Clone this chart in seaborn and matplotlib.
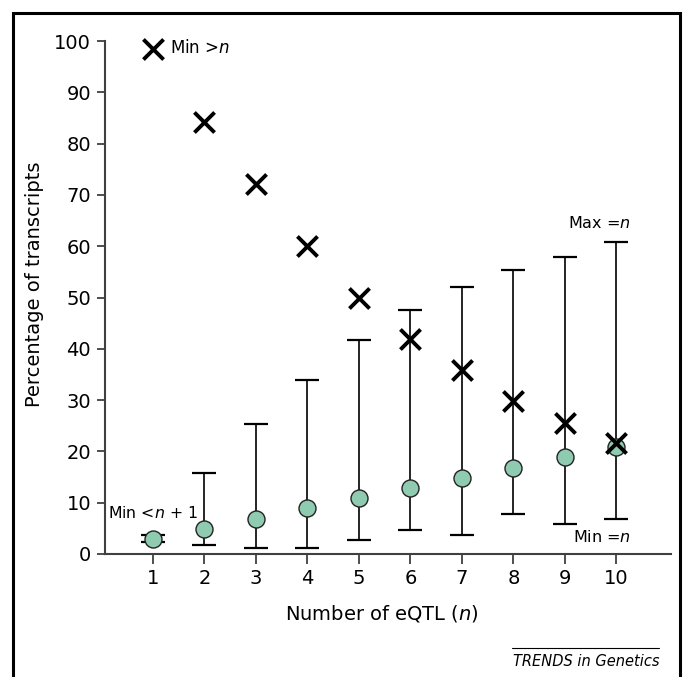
import numpy as np
import pandas as pd
import matplotlib
matplotlib.use("Agg")
import matplotlib.pyplot as plt
import seaborn as sns
from matplotlib.patches import Rectangle
from matplotlib.lines import Line2D

# values
n_eqtl = [1, 2, 3, 4, 5, 6, 7, 8, 9, 10]
mid_pct = [3, 4.9, 6.9, 8.9, 10.9, 12.9, 14.9, 16.8, 18.9, 20.9]
low_pct = [2.4, 1.8, 1.2, 1.2, 2.8, 4.7, 3.7, 7.8, 5.8, 6.8]
high_pct = [3.7, 15.8, 25.3, 34.0, 41.8, 47.6, 52.1, 55.4, 57.8, 60.9]
min_gt_n = [98.4, 84.2, 72.1, 60.0, 49.9, 41.9, 35.9, 29.9, 25.6, 21.6]
y_ticks = [0, 10, 20, 30, 40, 50, 60, 70, 80, 90, 100]

df = pd.DataFrame({"n": n_eqtl, "mid": mid_pct, "low": low_pct,
                   "high": high_pct, "gt": min_gt_n})

sns.set_style("ticks")
plt.rcParams["font.family"] = ["DejaVu Sans"]
plt.rcParams["text.color"] = "black"
plt.rcParams["axes.labelcolor"] = "black"
plt.rcParams["xtick.labelcolor"] = "black"
plt.rcParams["ytick.labelcolor"] = "black"

fig = plt.figure(figsize=(6.83, 6.77), dpi=100)
ax = fig.add_axes([0.1537, 0.1817, 0.8287, 0.7577])

# error bars (min/max range)
yerr = np.array([df["mid"] - df["low"], df["high"] - df["mid"]])
ax.errorbar(df["n"], df["mid"], yerr=yerr, fmt="none", ecolor="black",
            elinewidth=1.2, capsize=8.5, capthick=1.6, zorder=2)

# circles
sns.scatterplot(data=df, x="n", y="mid", ax=ax, s=150, color="#8fcbb0",
                edgecolor="#222222", linewidth=1.0, zorder=3, clip_on=False)

# X markers
sns.scatterplot(data=df, x="n", y="gt", ax=ax, marker="x", s=210,
                color="black", linewidth=2.8, zorder=4, clip_on=False)

ax.set_xlim(0.07, 11.06)
ax.set_ylim(0, 100)
ax.set_xticks(n_eqtl)
ax.set_yticks(y_ticks)
ax.tick_params(axis="both", labelsize=14, color="#404040", width=1.3)
ax.tick_params(axis="x", length=7, pad=4)
ax.tick_params(axis="y", length=6, pad=4)
for side in ["top", "right"]:
    ax.spines[side].set_visible(False)
for side in ["left", "bottom"]:
    ax.spines[side].set_color("#404040")
    ax.spines[side].set_linewidth(1.5)

ax.set_xlabel("Number of eQTL ($\\it{n}$)", fontsize=14)
ax.set_ylabel("Percentage of transcripts", fontsize=14)
ax.xaxis.set_label_coords(0.49, -0.095)
ax.yaxis.set_label_coords(-0.107, 0.525)

# annotations
ax.text(1.33, 98.6, "Min >$\\it{n}$", fontsize=12, va="center", ha="left")
ax.text(0.13, 8.0, "Min <$\\it{n}$ + 1", fontsize=11.3, va="center", ha="left")
ax.text(10.27, 64.6, "Max =$\\it{n}$", fontsize=11.5, va="center", ha="right")
ax.text(10.29, 3.3, "Min =$\\it{n}$", fontsize=11.5, va="center", ha="right")

# frame and journal tag
fig.patches.append(Rectangle((0.019, -0.05), 0.976, 1.031, transform=fig.transFigure,
                             fill=False, edgecolor="black", linewidth=2.2))
fig.text(0.965, 0.0236, "TRENDS in Genetics", fontsize=10.5, style="italic",
         ha="right", va="center")
fig.lines.append(Line2D([0.75, 0.965], [0.0428, 0.0428], transform=fig.transFigure,
                        color="black", linewidth=0.8))

fig.savefig("out.png", dpi=100)
